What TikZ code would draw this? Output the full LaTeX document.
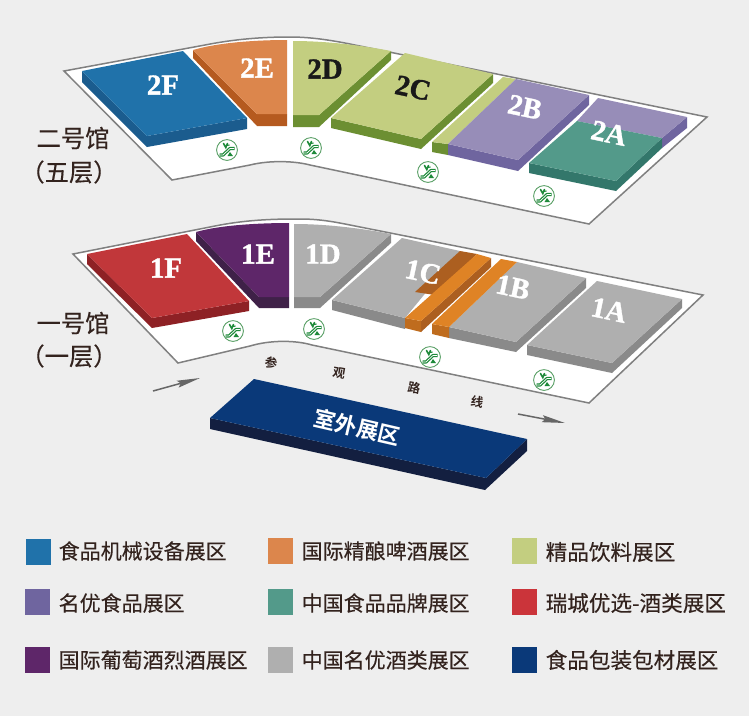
\documentclass[tikz,border=0pt]{standalone}
\usepackage{fontspec}
\usetikzlibrary{arrows.meta}
\newfontfamily\cjk[FakeBold=0.25]{Noto Sans CJK SC}
\newfontfamily\cjkbold{Noto Sans CJK SC Bold}
\newfontfamily\zonef[FakeBold=1.2]{Liberation Serif Bold}
\definecolor{bg}{HTML}{EEEEEE}
\definecolor{ink}{HTML}{33231E}
\definecolor{blueT}{HTML}{2072AA}\definecolor{blueS}{HTML}{1B5C8E}
\definecolor{orT}{HTML}{DC864C}\definecolor{orS}{HTML}{B55A1F}
\definecolor{grT}{HTML}{C3CE80}\definecolor{grS}{HTML}{6C8F32}
\definecolor{puT}{HTML}{978DB8}\definecolor{puS}{HTML}{6F659F}
\definecolor{teT}{HTML}{539A8A}\definecolor{teS}{HTML}{33776B}
\definecolor{reT}{HTML}{C1373A}\definecolor{reS}{HTML}{8E2125}\definecolor{reL}{HTML}{CB343A}
\definecolor{viT}{HTML}{5E2669}\definecolor{viS}{HTML}{3F2148}
\definecolor{gyT}{HTML}{AFAFAF}\definecolor{gyS}{HTML}{8A8A8A}
\definecolor{amT}{HTML}{DF8325}\definecolor{amS}{HTML}{BF6C1E}\definecolor{amD}{HTML}{AC5F20}
\definecolor{naT}{HTML}{0A3979}\definecolor{naS}{HTML}{131F40}
\definecolor{escG}{HTML}{1E8A3A}\definecolor{escR}{HTML}{5AA066}
\tikzset{
  floorplate/.style={fill=white,draw=black!50,line width=1.5pt,line join=miter},
  zonelabel/.style={font=\zonef\fontsize{29}{29}\selectfont,inner sep=0pt,text=white},
  legendtxt/.style={font=\cjk\fontsize{21}{24}\selectfont,text=ink,anchor=west,inner sep=0pt},
  legendwide/.style={legendtxt,font=\cjk\fontsize{21.6}{24}\selectfont},
  halltxt/.style={font=\cjk\fontsize{24.3}{28}\selectfont,text=ink,inner sep=0pt},
  routetxt/.style={font=\cjkbold\fontsize{12.5}{14}\selectfont,text=ink,inner sep=0pt,rotate=-10},
  swatch/.style={minimum width=25pt,minimum height=26pt,inner sep=0pt,outer sep=0pt,draw=none,anchor=north west},
  routearrow/.style={draw=black!60,line width=1.5pt,-{Stealth[length=23pt,width=7pt,inset=3pt]}},
  escal/.pic={
    \draw[draw=escR,fill=white,line width=.9pt] (0,0) circle[radius=10.4];
    \draw[escG,line width=3.2pt,line join=round] (-7.5,5)--(-4,5)--(3,-1.5)--(7.5,-1.5);
    \draw[white,line width=.7pt,line join=round] (-7,5)--(-4,5)--(3,-1.5)--(7,-1.5);
    \draw[escG,line width=1.6pt,line cap=round] (-3.5,-6.5)--(-1.2,-2.5)--(0.5,-6.5);
    \draw[escG,line width=1.2pt] (-1.2,-4.5)--(2.5,-5);
    \fill[escG] (3,2)--(6,6)--(0.5,6)--cycle;
  }
}
\begin{document}
\begin{tikzpicture}[x=1pt,y=-1pt]
\useasboundingbox (0,0) rectangle (749,716);
\fill[bg] (0,0) rectangle (749,716);

% floor 2 plate
\draw[floorplate] (64,71) -- (205,45) .. controls (240,38) and (270,37) .. (290,37) .. controls (310,37) and (330,40) .. (350,44) -- (707,117) -- (589,224) -- (310,165) .. controls (295,161) and (270,160) .. (250,165) -- (172,180) -- cycle;

% 2F
\fill[blueS] (82,71)--(82,82)--(147,147)--(247,129)--(247,118)--(147,136)--cycle;
\fill[blueT] (82,71)--(183,51)--(247,118)--(147,136)--cycle;
% 2E
\fill[orS] (193,50)--(193,58)--(257,126)--(287,126)--(287,114)--(257,114)--cycle;
\fill[orT] (193,50) .. controls (220,42) and (260,40) .. (287,40) -- (287,114)--(257,114)--cycle;
% 2D
\fill[grS] (293,115)--(293,127)--(319,127)--(391,60)--(391,51)--(319,115)--cycle;
\fill[grT] (293,41) .. controls (325,41) and (360,45) .. (391,51) -- (319,115)--(293,115)--cycle;
% 2C
\fill[grS] (331,118)--(331,128)--(421,149)--(493,83)--(493,74)--(421,139)--cycle;
\fill[grT] (331,118)--(405,53)--(493,74)--(421,139)--cycle;
% strip by 2B
\fill[grS] (432,142)--(432,152)--(448,155)--(448,144)--cycle;
\fill[grT] (503,77)--(516,79)--(448,144)--(432,142)--cycle;
% 2B
\fill[puS] (448,144)--(448,155)--(518,171)--(589,105)--(589,95)--(518,160)--cycle;
\fill[puT] (516,79)--(589,95)--(518,160)--(448,144)--cycle;
% 2A
\fill[puS] (662,138)--(662,148)--(687,128)--(687,117)--cycle;
\fill[puT] (598,98)--(687,117)--(662,138)--(577,121)--cycle;
\fill[teS] (529,163)--(529,173)--(616,191)--(662,148)--(662,138)--(616,181)--cycle;
\fill[teT] (577,121)--(662,138)--(616,181)--(529,163)--cycle;

% floor 1 plate
\draw[floorplate] (73,254) -- (215,226) .. controls (250,219) and (280,219) .. (300,219) .. controls (320,219) and (335,222) .. (350,225) -- (703,295) -- (589,403) -- (312,345) .. controls (295,340) and (270,340) .. (250,346) -- (178,363) -- cycle;

% 1F
\fill[reS] (87,254)--(87,264)--(152,328)--(249,311)--(249,301)--(152,318)--cycle;
\fill[reT] (87,254)--(187,234)--(249,301)--(152,318)--cycle;
% 1E
\fill[viS] (196,232)--(196,241)--(259,308)--(289,308)--(289,297)--(259,297)--cycle;
\fill[viT] (196,232) .. controls (220,225) and (260,223) .. (289,223) -- (289,297)--(259,297)--cycle;
% 1D
\fill[gyS] (294,297)--(294,308)--(320,308)--(391,243)--(391,234)--(320,297)--cycle;
\fill[gyT] (294,224) .. controls (325,224) and (360,228) .. (391,234) -- (320,297)--(294,297)--cycle;
% 1C
\fill[gyS] (332,300)--(332,310)--(405,329)--(405,318)--cycle;
\fill[gyT] (332,300)--(402,238)--(460,251)--(405,318)--cycle;
\fill[amD] (460,251)--(477,254)--(435,295)--(415,292)--cycle;
\fill[amD] (421,321)--(421,332)--(491,267)--(491,258)--cycle;
\fill[amS] (405,318)--(405,328)--(421,332)--(421,321)--cycle;
\fill[amT] (477,254)--(491,258)--(421,321)--(405,318)--cycle;
% 1B
\fill[gyS] (449,327)--(449,338)--(516,352)--(586,288)--(586,278)--(516,342)--cycle;
\fill[gyT] (517,262)--(586,278)--(516,342)--(449,327)--cycle;
\fill[amS] (432,324)--(432,334)--(449,338)--(449,327)--cycle;
\fill[amT] (501,259)--(517,262)--(449,327)--(432,324)--cycle;
% 1A
\fill[gyS] (527,345)--(527,355)--(612,373)--(682,308)--(682,299)--(612,363)--cycle;
\fill[gyT] (597,281)--(682,299)--(612,363)--(527,345)--cycle;

% outdoor
\fill[naS] (210,418)--(210,429)--(485,490)--(527,451)--(527,439)--(486,478)--cycle;
\fill[naT] (254,379)--(527,439)--(486,478)--(210,418)--cycle;
\node[font=\cjkbold\fontsize{22}{24}\selectfont,text=white,inner sep=0pt,rotate=-13] (outdoor) at (357,427) {室外展区};

% zone labels
\node[zonelabel] (z2f) at (163,85) {2F};
\node[zonelabel] (z2e) at (257,68) {2E};
\node[zonelabel,text=black!90] (z2d) at (325,69) {2D};
\node[zonelabel,text=black!90,rotate=-12] (z2c) at (413,88) {2C};
\node[zonelabel,rotate=-12] (z2b) at (525,107) {2B};
\node[zonelabel,rotate=-12] (z2a) at (609,133) {2A};
\node[zonelabel] (z1f) at (166,268) {1F};
\node[zonelabel] (z1e) at (258,254) {1E};
\node[zonelabel] (z1d) at (323,254) {1D};
\node[zonelabel,rotate=-12] (z1c) at (423,272) {1C};
\node[zonelabel,rotate=-12] (z1b) at (513,287) {1B};
\node[zonelabel,rotate=-12] (z1a) at (609,310) {1A};

% escalators
\pic at (227,150) {escal};
\pic at (311,148) {escal};
\pic at (428,172) {escal};
\pic at (544,196) {escal};
\pic at (233,331) {escal};
\pic at (314,329) {escal};
\pic at (430,357) {escal};
\pic at (544,380) {escal};

% route
\node[routetxt] (r1) at (271,363) {参};
\node[routetxt] (r2) at (339,373) {观};
\node[routetxt] (r3) at (414,388) {路};
\node[routetxt] (r4) at (477,402) {线};
\coordinate (a1) at (153,391); \coordinate (a2) at (200,378);
\coordinate (b1) at (518,414); \coordinate (b2) at (565,423);
\draw[routearrow] (a1) -- (a2);
\draw[routearrow] (b1) -- (b2);

% hall names
\node[halltxt] (h2a) at (73,138) {二号馆};
\node[halltxt] (h2b) at (69,172) {（五层）};
\node[halltxt] (h1a) at (73,323) {一号馆};
\node[halltxt] (h1b) at (69,356) {（一层）};

% legend
\node[swatch,fill=blueT] (s1) at (26,539) {};
\node[legendtxt] (t1) at (58.5,551) {食品机械设备展区};
\node[swatch,fill=orT] (s2) at (268,538) {};
\node[legendtxt] (t2) at (301.5,551) {国际精酿啤酒展区};
\node[swatch,fill=grT] (s3) at (512,538) {};
\node[legendwide] (t3) at (545.5,552) {精品饮料展区};
\node[swatch,fill=puS] (s4) at (25,589) {};
\node[legendtxt] (t4) at (58.5,603) {名优食品展区};
\node[swatch,fill=teT] (s5) at (268,589) {};
\node[legendtxt] (t5) at (301.5,603) {中国食品品牌展区};
\node[swatch,fill=reL] (s6) at (512,589) {};
\node[legendwide] (t6) at (545.5,603) {瑞城优选-酒类展区};
\node[swatch,fill=viT] (s7) at (25,647) {};
\node[legendtxt] (t7) at (58.5,660) {国际葡萄酒烈酒展区};
\node[swatch,fill=gyT] (s8) at (268,647) {};
\node[legendtxt] (t8) at (301.5,660) {中国名优酒类展区};
\node[swatch,fill=naT] (s9) at (512,647) {};
\node[legendwide] (t9) at (545.5,660) {食品包装包材展区};
\end{tikzpicture}
\end{document}
